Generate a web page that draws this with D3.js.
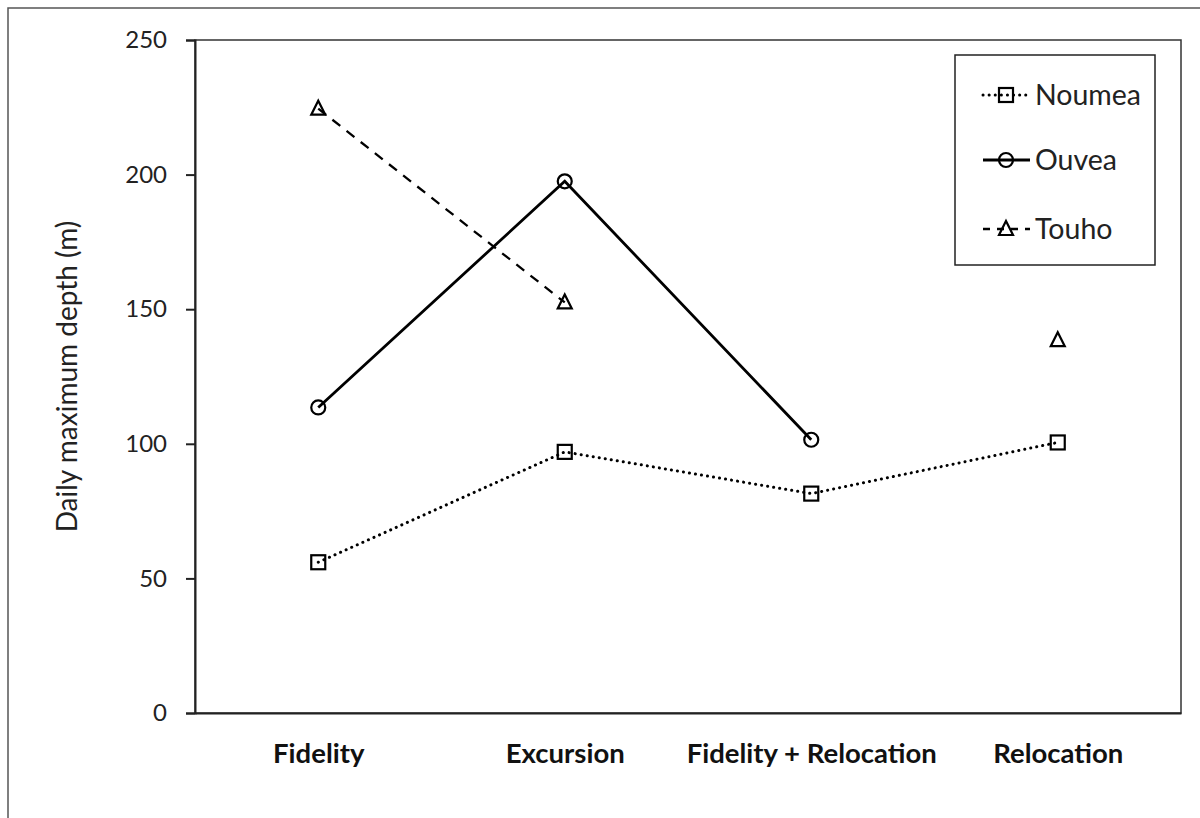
<!DOCTYPE html>
<html><head><meta charset="utf-8">
<script src="https://cdn.jsdelivr.net/npm/d3@7"></script>
<style>body{margin:0;background:#fff}svg{display:block}</style>
</head><body>
<script>
const categories = ["Fidelity", "Excursion", "Fidelity + Relocation", "Relocation"];
const noumea = [56, 97, 81.5, 100.5];
const ouvea = [113.5, 197.5, 101.5, null];
const touho = [224.5, 152.5, null, 138.5];
const yTicks = [0, 50, 100, 150, 200, 250];
const seriesNames = ["Noumea", "Ouvea", "Touho"];

(function () {
const W = 1200, H = 818;
const font = "Lato, 'Open Sans', sans-serif";
const svg = d3.select("body").append("svg").attr("width", W).attr("height", H);

// outer frame
svg.append("rect").attr("x", 8).attr("y", 8).attr("width", 1200).attr("height", 830)
  .attr("fill", "none").attr("stroke", "#555").attr("stroke-width", 1.5);

const pL = 195, pR = 1181, pT = 40, pB = 713;
const x = d3.scalePoint().domain(categories).range([pL, pR]).padding(0.5);
const y = d3.scaleLinear().domain([0, 250]).range([pB, pT]);

// plot border
svg.append("rect").attr("x", pL).attr("y", pT).attr("width", pR - pL).attr("height", pB - pT)
  .attr("fill", "none").attr("stroke", "#333").attr("stroke-width", 1.5);

const yAxis = svg.append("g").attr("transform", `translate(${pL},0)`)
  .call(d3.axisLeft(y).tickValues(yTicks).tickSize(9).tickPadding(19));
yAxis.select(".domain").attr("stroke", "#222").attr("stroke-width", 2);
yAxis.selectAll(".tick line").attr("stroke", "#222").attr("stroke-width", 2);
yAxis.selectAll("text").attr("font-family", font).attr("font-size", 24).attr("fill", "#222");

const xAxis = svg.append("g").attr("transform", `translate(0,${pB})`)
  .call(d3.axisBottom(x).tickSize(0).tickPadding(30));
xAxis.select(".domain").attr("stroke", "#222").attr("stroke-width", 2);
xAxis.selectAll("text").attr("font-family", font).attr("font-size", 27.5).attr("font-weight", "bold").attr("fill", "#111");

svg.append("text").attr("transform", `translate(77,${(pT + pB) / 2}) rotate(-90)`)
  .attr("text-anchor", "middle").attr("font-family", font).attr("font-size", 28).attr("fill", "#222")
  .text("Daily maximum depth (m)");

const styles = {
  Noumea: {data: noumea, dash: "0.1,6", cap: "round", width: 3, marker: "square"},
  Ouvea: {data: ouvea, dash: null, cap: "butt", width: 2.8, marker: "circle"},
  Touho: {data: touho, dash: "10,8", cap: "butt", width: 2.3, marker: "triangle"}
};

function drawMarker(g, type, cx, cy) {
  if (type === "square") {
    g.append("rect").attr("x", cx - 7).attr("y", cy - 7).attr("width", 14).attr("height", 14)
      .attr("fill", "none").attr("stroke", "#000").attr("stroke-width", 2.2);
  } else if (type === "circle") {
    g.append("circle").attr("cx", cx).attr("cy", cy).attr("r", 7)
      .attr("fill", "none").attr("stroke", "#000").attr("stroke-width", 2.2);
  } else {
    g.append("path").attr("d", `M${cx},${cy - 8}L${cx + 7},${cy + 6}L${cx - 7},${cy + 6}Z`)
      .attr("fill", "none").attr("stroke", "#000").attr("stroke-width", 2.2).attr("stroke-linejoin", "miter");
  }
}

const line = d3.line().defined(d => d.v != null).x(d => x(d.c)).y(d => y(d.v));
const plot = svg.append("g");
seriesNames.forEach(name => {
  const s = styles[name];
  const pts = categories.map((c, i) => ({c, v: s.data[i]}));
  plot.append("path").datum(pts).attr("d", line).attr("fill", "none").attr("stroke", "#000")
    .attr("stroke-width", s.width).attr("stroke-dasharray", s.dash).attr("stroke-linecap", s.cap);
  pts.filter(d => d.v != null).forEach(d => drawMarker(plot, s.marker, x(d.c), y(d.v)));
});

// legend
const lg = svg.append("g");
lg.append("rect").attr("x", 955).attr("y", 55).attr("width", 200).attr("height", 210)
  .attr("fill", "#fff").attr("stroke", "#222").attr("stroke-width", 1.5);
const ly = [95, 160, 229];
seriesNames.forEach((name, i) => {
  const s = styles[name];
  const cy = ly[i];
  lg.append("line").attr("x1", 983).attr("x2", 1030).attr("y1", cy).attr("y2", cy)
    .attr("stroke", "#000").attr("stroke-width", s.width).attr("stroke-dasharray", name === "Touho" ? "7,7" : s.dash)
    .attr("stroke-linecap", s.cap);
  drawMarker(lg, s.marker, 1006, cy);
  lg.append("text").attr("x", 1035).attr("y", cy + 10).attr("font-family", font).attr("font-size", 28.5)
    .attr("fill", "#222").text(name);
});
})();
</script>
</body></html>
